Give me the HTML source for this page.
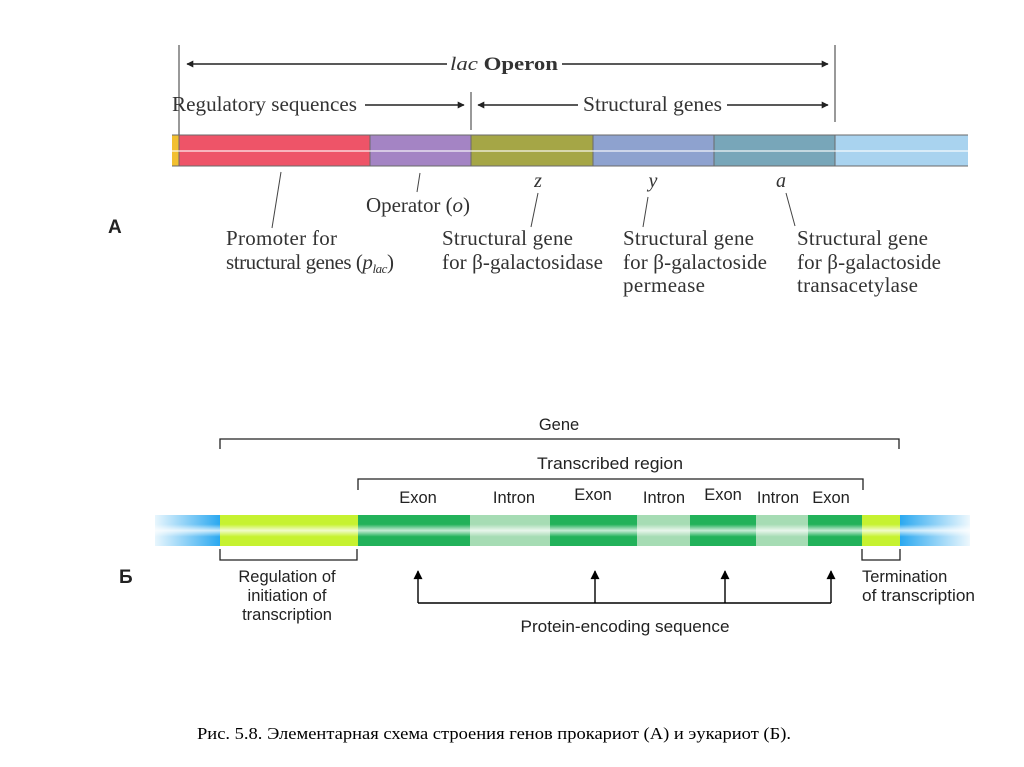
<!DOCTYPE html>
<html><head><meta charset="utf-8"><style>
html,body{margin:0;padding:0;background:#fff;}
svg{display:block;}
.s{font-family:"Liberation Serif",serif;fill:#333;}
.n{font-family:"Liberation Sans",sans-serif;fill:#222;}
</style></head><body>
<svg width="1024" height="767" viewBox="0 0 1024 767" xmlns="http://www.w3.org/2000/svg">
<defs>
<marker id="ah" viewBox="0 0 10 10" refX="9" refY="5" markerWidth="9" markerHeight="7" orient="auto-start-reverse" markerUnits="userSpaceOnUse"><path d="M0,0 L10,5 L0,10 z" fill="#222"/></marker>
<marker id="up" viewBox="0 0 10 10" refX="5" refY="1" markerWidth="9" markerHeight="12" orient="0" markerUnits="userSpaceOnUse"><path d="M5,0 L10,10 L0,10 z" fill="#000"/></marker>
<linearGradient id="bl" x1="0" x2="1"><stop offset="0" stop-color="#e8f6fd"/><stop offset="1" stop-color="#2aa8f0"/></linearGradient>
<linearGradient id="br" x1="0" x2="1"><stop offset="0" stop-color="#2aa8f0"/><stop offset="1" stop-color="#eef8fd"/></linearGradient>
<linearGradient id="vs" x1="0" y1="0" x2="0" y2="1"><stop offset="0" stop-color="#fff" stop-opacity="0"/><stop offset="0.3" stop-color="#fff" stop-opacity="0"/><stop offset="0.5" stop-color="#fff" stop-opacity="0.75"/><stop offset="0.7" stop-color="#fff" stop-opacity="0"/><stop offset="1" stop-color="#fff" stop-opacity="0"/></linearGradient>
</defs>

<!-- Part A -->
<g stroke="#333" stroke-width="1">
<line x1="179" y1="45" x2="179" y2="135"/>
<line x1="835" y1="45" x2="835" y2="122"/>
<line x1="471" y1="92" x2="471" y2="130"/>
</g>
<g stroke="#222" stroke-width="1.5">
<line x1="187" y1="64" x2="447" y2="64" marker-start="url(#ah)"/>
<line x1="562" y1="64" x2="828" y2="64" marker-end="url(#ah)"/>
<line x1="365" y1="105" x2="464" y2="105" marker-end="url(#ah)"/>
<line x1="478" y1="105" x2="578" y2="105" marker-start="url(#ah)"/>
<line x1="727" y1="105" x2="828" y2="105" marker-end="url(#ah)"/>
</g>
<text class="s" x="504" y="70" font-size="19" text-anchor="middle" textLength="108" lengthAdjust="spacingAndGlyphs"><tspan font-style="italic">lac</tspan> <tspan font-weight="bold">Operon</tspan></text>
<text class="s" x="172" y="111" font-size="21" textLength="185" lengthAdjust="spacingAndGlyphs">Regulatory sequences</text>
<text class="s" x="583" y="111" font-size="21" textLength="139" lengthAdjust="spacingAndGlyphs">Structural genes</text>

<rect x="172" y="135" width="796" height="31" fill="#a9d3ef"/>
<rect x="172" y="135" width="7" height="31" fill="#f2c030"/>
<rect x="179" y="135" width="191" height="31" fill="#ee5468"/>
<rect x="370" y="135" width="101" height="31" fill="#a484c4"/>
<rect x="471" y="135" width="122" height="31" fill="#a5a646"/>
<rect x="593" y="135" width="121" height="31" fill="#8ea2cf"/>
<rect x="714" y="135" width="121" height="31" fill="#78a6b9"/>
<g stroke="#6a6a6a" stroke-width="1">
<line x1="172" y1="135" x2="968" y2="135"/><line x1="172" y1="166" x2="968" y2="166"/>
<line x1="179" y1="135" x2="179" y2="166"/><line x1="370" y1="135" x2="370" y2="166"/>
<line x1="471" y1="135" x2="471" y2="166"/><line x1="593" y1="135" x2="593" y2="166"/>
<line x1="714" y1="135" x2="714" y2="166"/><line x1="835" y1="135" x2="835" y2="166"/>
</g>
<line x1="172" y1="151" x2="968" y2="151" stroke="#fff" stroke-opacity="0.75" stroke-width="1.5"/>

<g stroke="#444" stroke-width="1">
<line x1="281" y1="172" x2="272" y2="228"/>
<line x1="420" y1="173" x2="417" y2="192"/>
<line x1="538" y1="193" x2="531" y2="227"/>
<line x1="648" y1="197" x2="643" y2="227"/>
<line x1="786" y1="193" x2="795" y2="226"/>
</g>
<g class="s" font-size="20" font-style="italic">
<text x="538" y="187" text-anchor="middle">z</text>
<text x="653" y="187" text-anchor="middle">y</text>
<text x="781" y="187" text-anchor="middle">a</text>
</g>
<g class="s" font-size="21" lengthAdjust="spacingAndGlyphs">
<text x="366" y="212" textLength="104">Operator (<tspan font-style="italic">o</tspan>)</text>
<text x="226" y="245" textLength="111">Promoter for</text>
<text x="226" y="269" textLength="168">structural genes (<tspan font-style="italic">p</tspan><tspan font-style="italic" font-size="13" dy="4">lac</tspan><tspan dy="-4">)</tspan></text>
<text x="442" y="245" textLength="131">Structural gene</text>
<text x="442" y="269" textLength="161">for β-galactosidase</text>
<text x="623" y="245" textLength="131">Structural gene</text>
<text x="623" y="269" textLength="144">for β-galactoside</text>
<text x="623" y="292" textLength="82">permease</text>
<text x="797" y="245" textLength="131">Structural gene</text>
<text x="797" y="269" textLength="144">for β-galactoside</text>
<text x="797" y="292" textLength="121">transacetylase</text>
</g>
<text class="n" x="108" y="233" font-size="19" font-weight="bold" fill="#000">A</text>

<!-- Part B -->
<text class="n" x="559" y="430" font-size="16.5" text-anchor="middle">Gene</text>
<path d="M220,449 V439 H899 V449" fill="none" stroke="#222" stroke-width="1.3"/>
<text class="n" x="610" y="469" font-size="16.5" text-anchor="middle" textLength="146" lengthAdjust="spacingAndGlyphs">Transcribed region</text>
<path d="M358,490 V479 H863 V490" fill="none" stroke="#222" stroke-width="1.3"/>
<g class="n" font-size="16.5" text-anchor="middle">
<text x="418" y="503">Exon</text>
<text x="514" y="503">Intron</text>
<text x="593" y="500">Exon</text>
<text x="664" y="503">Intron</text>
<text x="723" y="500">Exon</text>
<text x="778" y="503">Intron</text>
<text x="831" y="503">Exon</text>
</g>

<rect x="155" y="515" width="65" height="31" fill="url(#bl)"/>
<rect x="900" y="515" width="70" height="31" fill="url(#br)"/>
<rect x="220" y="515" width="138" height="31" fill="#c6f230"/>
<rect x="862" y="515" width="38" height="31" fill="#c6f230"/>
<rect x="358" y="515" width="112" height="31" fill="#22b25a"/>
<rect x="470" y="515" width="80" height="31" fill="#a6dcb4"/>
<rect x="550" y="515" width="87" height="31" fill="#22b25a"/>
<rect x="637" y="515" width="53" height="31" fill="#a6dcb4"/>
<rect x="690" y="515" width="66" height="31" fill="#22b25a"/>
<rect x="756" y="515" width="52" height="31" fill="#a6dcb4"/>
<rect x="808" y="515" width="54" height="31" fill="#22b25a"/>
<rect x="155" y="515" width="815" height="31" fill="url(#vs)"/>

<path d="M220,549 V560 H357 V549" fill="none" stroke="#222" stroke-width="1.3"/>
<path d="M862,549 V560 H900 V549" fill="none" stroke="#222" stroke-width="1.3"/>
<g class="n" font-size="16.5" text-anchor="middle">
<text x="287" y="582">Regulation of</text>
<text x="287" y="601">initiation of</text>
<text x="287" y="620">transcription</text>
</g>
<g class="n" font-size="16.5">
<text x="862" y="582">Termination</text>
<text x="862" y="601" textLength="113" lengthAdjust="spacingAndGlyphs">of transcription</text>
</g>
<g stroke="#000" stroke-width="1.4" fill="none">
<path d="M418,603 H831"/>
<line x1="418" y1="603" x2="418" y2="571" marker-end="url(#up)"/>
<line x1="595" y1="603" x2="595" y2="571" marker-end="url(#up)"/>
<line x1="725" y1="603" x2="725" y2="571" marker-end="url(#up)"/>
<line x1="831" y1="603" x2="831" y2="571" marker-end="url(#up)"/>
</g>
<text class="n" x="625" y="632" font-size="16.5" text-anchor="middle" textLength="209" lengthAdjust="spacingAndGlyphs">Protein-encoding sequence</text>
<text class="n" x="119" y="583" font-size="19" font-weight="bold" fill="#000">Б</text>

<text x="197" y="739" font-family="Liberation Serif, serif" font-size="17" fill="#000" textLength="594" lengthAdjust="spacingAndGlyphs">Рис. 5.8. Элементарная схема строения генов прокариот (А) и эукариот (Б).</text>
</svg>
</body></html>
